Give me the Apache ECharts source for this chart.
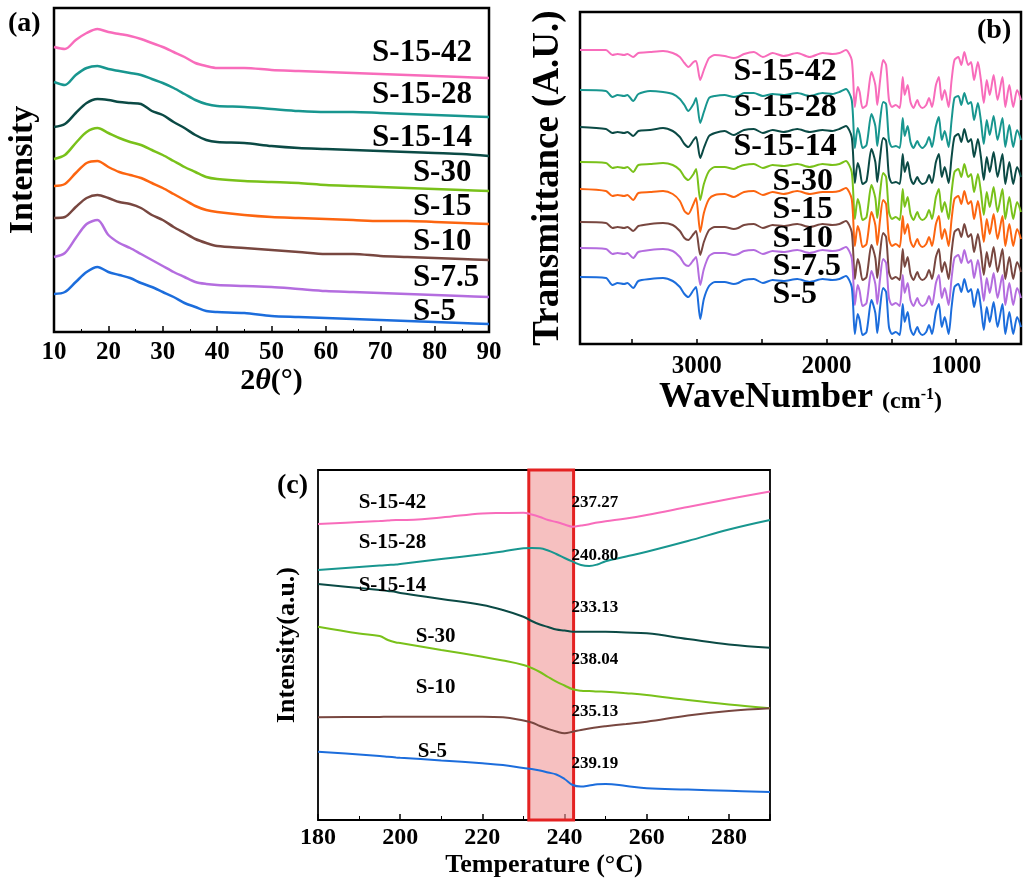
<!DOCTYPE html>
<html>
<head>
<meta charset="utf-8">
<script src="https://cdn.jsdelivr.net/npm/echarts/dist/echarts.min.js"></script>
<style>
  html, body { margin: 0; padding: 0; background: #fff; }
  #chart { width: 1024px; height: 881px; }
</style>
</head>
<body>
<div id="chart"></div>
<script>
// ---- (a) XRD, intensity in arbitrary units (curves stacked) ----
const xrdAngle = [10, 12, 14, 16, 18, 20, 22, 24, 26, 28, 30, 32, 34, 36, 38, 40, 45, 50, 55, 60, 65, 70, 75, 80, 85, 90]
const xrdS1542 = [285, 283, 292, 299, 303, 300, 298, 296, 293, 289, 285, 280, 275, 269, 266, 264, 264, 262, 261, 260, 259, 258, 257, 256, 255, 254]
const xrdS1528 = [250, 247, 257, 264, 266, 263, 261, 259, 257, 253, 249, 244, 238, 232, 228, 226, 225, 223, 221, 220, 220, 219, 218, 217, 216, 215]
const xrdS1514 = [205, 208, 219, 229, 233, 232, 230, 229, 228, 221, 217, 210, 204, 197, 192, 190, 189, 186, 184, 183, 182, 181, 180, 179, 178, 176]
const xrdS30 = [173, 177, 189, 200, 204, 199, 194, 190, 187, 182, 177, 171, 165, 160, 155, 153, 151, 150, 149, 147, 146, 145, 144, 143, 142, 141]
const xrdS15 = [146, 148, 159, 169, 171, 165, 160, 157, 154, 149, 144, 138, 132, 126, 122, 120, 117, 115, 114, 113, 112, 111, 111, 110, 109, 108]
const xrdS10 = [114, 115, 125, 134, 137, 134, 130, 128, 124, 117, 112, 105, 99, 93, 89, 86, 84, 82, 80, 78, 78, 76, 75, 74, 73, 72]
const xrdS75 = [75, 79, 94, 108, 112, 97, 89, 84, 78, 72, 66, 60, 55, 50, 48, 47, 46, 45, 43, 41, 40, 39, 38, 37, 36, 35]
const xrdS5 = [38, 40, 50, 60, 65, 60, 57, 54, 49, 45, 40, 35, 29, 25, 21, 20, 19, 16, 15, 14, 13, 12, 11, 10, 9, 8]

// ---- (b) FTIR, transmittance in arbitrary units (curves stacked) ----
const irWave = [3900, 3700, 3650, 3610, 3560, 3535, 3490, 3450, 3360, 3260, 3185, 3130, 3095, 3065, 3025, 3005, 2973, 2945, 2905, 2860,
  2785, 2715, 2680, 2635, 2560, 2490, 2415, 2330, 2225, 2130, 2030, 1955, 1900, 1850, 1805,
  1781, 1759, 1744, 1721, 1691, 1653, 1623, 1608, 1586, 1563, 1540, 1518, 1495, 1465, 1435, 1412, 1397, 1374, 1352, 1329,
  1299, 1284, 1261, 1231, 1209, 1186, 1156, 1133, 1111, 1088, 1058, 1035, 1013, 983, 960, 937, 907, 885, 862, 832,
  809, 787, 764, 741, 711, 681, 643, 621, 590, 560, 530, 500]
const irS1542 = [294, 294, 289, 290, 289, 290, 287, 291, 292, 293, 291, 287, 281, 277, 282, 283, 264, 274, 286, 289,
  288, 286, 287, 290, 292, 287, 291, 288, 291, 287, 291, 290, 291, 294, 284,
  237, 257, 252, 236, 239, 272, 259, 239, 264, 284, 279, 244, 237, 239, 236, 267, 249, 259, 242, 236,
  244, 239, 236, 239, 246, 237, 259, 267, 244, 254, 237, 264, 284, 287, 279, 292, 279, 282, 264, 282,
  264, 241, 264, 249, 269, 244, 267, 237, 259, 237, 254, 244]
const irS1528 = [254, 253, 247, 249, 248, 249, 243, 250, 253, 252, 250, 245, 239, 233, 240, 246, 221, 232, 246, 248,
  249, 247, 248, 251, 251, 248, 250, 249, 251, 248, 251, 250, 252, 255, 244,
  196, 216, 210, 196, 199, 230, 218, 198, 224, 242, 240, 204, 197, 198, 196, 226, 208, 218, 202, 196,
  203, 199, 196, 200, 207, 197, 218, 227, 204, 213, 197, 224, 246, 248, 239, 251, 240, 242, 224, 241,
  223, 200, 224, 209, 228, 204, 226, 197, 219, 197, 214, 204]
const irS1514 = [217, 215, 211, 212, 211, 212, 208, 213, 214, 216, 213, 207, 200, 197, 204, 207, 186, 196, 208, 211,
  213, 209, 211, 214, 215, 211, 214, 212, 215, 212, 214, 213, 215, 218, 207,
  161, 181, 175, 160, 163, 195, 182, 162, 187, 206, 203, 168, 161, 162, 160, 190, 172, 182, 166, 160,
  167, 163, 160, 162, 169, 161, 182, 190, 167, 177, 161, 187, 207, 210, 202, 215, 202, 205, 187, 205,
  187, 164, 187, 172, 192, 167, 190, 160, 182, 160, 177, 167]
const irS30 = [182, 181, 176, 177, 176, 177, 172, 179, 180, 181, 179, 174, 167, 164, 170, 175, 144, 160, 173, 177,
  177, 175, 177, 179, 180, 176, 179, 178, 180, 177, 180, 179, 180, 183, 172,
  125, 145, 139, 124, 127, 159, 146, 126, 152, 171, 167, 132, 125, 127, 124, 155, 137, 147, 130, 124,
  132, 127, 124, 127, 134, 125, 147, 155, 132, 142, 125, 152, 172, 175, 167, 180, 167, 170, 152, 170,
  152, 129, 152, 137, 157, 132, 155, 125, 147, 125, 142, 132]
const irS15 = [155, 153, 148, 149, 148, 149, 144, 151, 152, 153, 150, 143, 133, 130, 140, 146, 112, 131, 145, 149,
  150, 147, 149, 152, 153, 149, 152, 150, 153, 150, 152, 152, 153, 156, 145,
  98, 118, 112, 97, 100, 132, 119, 99, 125, 144, 140, 105, 98, 100, 97, 128, 110, 120, 103, 97,
  105, 100, 97, 100, 107, 98, 120, 128, 105, 115, 98, 125, 145, 148, 140, 153, 140, 143, 125, 143,
  125, 102, 125, 110, 130, 105, 128, 98, 120, 98, 115, 105]
const irS10 = [122, 121, 116, 117, 116, 117, 113, 118, 120, 121, 119, 113, 106, 104, 110, 113, 89, 102, 114, 117,
  117, 115, 116, 119, 120, 116, 119, 118, 120, 117, 120, 119, 120, 123, 112,
  65, 85, 79, 64, 67, 99, 86, 66, 92, 111, 107, 72, 65, 67, 64, 95, 77, 87, 70, 64,
  72, 67, 64, 67, 74, 65, 87, 95, 72, 82, 65, 92, 112, 115, 107, 120, 107, 110, 92, 110,
  92, 69, 92, 77, 97, 72, 95, 65, 87, 65, 82, 72]
const irS75 = [96, 95, 90, 91, 90, 91, 86, 92, 94, 95, 93, 87, 80, 78, 84, 87, 59, 75, 88, 91,
  91, 89, 90, 93, 94, 90, 93, 92, 94, 91, 94, 93, 94, 97, 86,
  39, 59, 53, 38, 41, 73, 60, 40, 66, 85, 81, 46, 39, 41, 38, 69, 51, 61, 44, 38,
  46, 41, 38, 41, 48, 39, 61, 69, 46, 56, 39, 66, 86, 89, 81, 94, 81, 84, 66, 84,
  66, 43, 66, 51, 71, 46, 69, 39, 61, 39, 56, 46]
const irS5 = [67, 66, 59, 61, 60, 61, 56, 63, 65, 66, 63, 57, 50, 47, 54, 57, 25, 45, 58, 62,
  62, 60, 61, 64, 65, 61, 64, 63, 65, 62, 65, 64, 65, 68, 57,
  10, 30, 24, 9, 12, 44, 31, 11, 37, 56, 52, 17, 10, 12, 9, 40, 22, 32, 15, 9,
  17, 12, 9, 12, 19, 10, 32, 40, 17, 27, 10, 37, 57, 60, 52, 65, 52, 55, 37, 55,
  37, 14, 37, 22, 42, 17, 40, 10, 32, 10, 27, 17]

// ---- (c) DSC, heat flow in arbitrary units (curves stacked) ----
const dscTemp = [180, 190, 195, 197, 199, 200, 210, 220, 225, 230, 232, 234, 236, 238, 240, 242, 244, 246, 248, 250, 255, 260, 270, 280, 290]
const dscS1542 = [296, 298, 299, 299.5, 300, 300, 302.5, 306.5, 307, 307.3, 305.5, 303, 300, 298, 295.5, 293.3, 294.5, 295.8, 297.5, 298.8, 301.5, 305, 313, 321, 328.5]
const dscS1528 = [250, 253, 254.5, 255, 255.5, 256, 261, 265.7, 268.5, 271.7, 272, 271.7, 269.5, 266, 262, 258.3, 255, 254, 255.5, 258.8, 263.5, 268.3, 279, 290.5, 300]
const dscS1514 = [236, 232, 230, 229, 228, 227, 221, 215, 210, 203.3, 199, 195.5, 193, 190.5, 189.5, 188.3, 188.3, 188.3, 188.3, 188.2, 187.5, 186.7, 181, 175.5, 172.3]
const dscS30 = [193.3, 186.5, 184, 180, 177.5, 177, 170, 163.3, 159.5, 155, 152, 148, 143, 138.3, 134.5, 130.7, 129.3, 129, 128.5, 128.3, 126.8, 125, 120, 115.5, 111.7]
const dscS10 = [102.7, 103, 103.1, 103.2, 103.3, 103.3, 103.3, 103.3, 102.7, 99.5, 97.5, 94, 91, 88.5, 86.8, 88.3, 90, 91.5, 92.8, 93.8, 96, 98.3, 104.5, 109, 111.7]
const dscS5 = [68.3, 65.5, 64, 63.3, 62.6, 62.3, 59.5, 56.7, 55, 52, 51, 49.5, 47.5, 45.5, 41, 35, 33.5, 34.5, 35.8, 36, 34, 31.7, 30.5, 29.2, 28]
const dscPeakTemp = ['237.27', '240.80', '233.13', '238.04', '235.13', '239.19']
const dscBand = [231.3, 242.2]

const samples8 = ['S-15-42', 'S-15-28', 'S-15-14', 'S-30', 'S-15', 'S-10', 'S-7.5', 'S-5']
const samples6 = ['S-15-42', 'S-15-28', 'S-15-14', 'S-30', 'S-10', 'S-5']
const colors8 = ['#f86cbb', '#18968f', '#0b4a45', '#79c11a', '#fc6510', '#784740', '#b46ddf', '#1c6ddc']
const colors6 = ['#f86cbb', '#18968f', '#0b4a45', '#79c11a', '#784740', '#1c6ddc']

const FONT = '"Liberation Serif", "Times New Roman", serif'

function lineSeries(name, xs, ys, color, idx, smooth, width) {
  return {
    name: name,
    type: 'line',
    xAxisIndex: idx,
    yAxisIndex: idx,
    data: xs.map((x, i) => [x, ys[i]]),
    symbol: 'none',
    smooth: smooth,
    silent: true,
    lineStyle: { color: color, width: width },
    itemStyle: { color: color },
    z: 3
  }
}

function labelSeries(idx, points, size) {
  return {
    type: 'scatter',
    xAxisIndex: idx,
    yAxisIndex: idx,
    symbolSize: 0,
    silent: true,
    itemStyle: { color: '#000', opacity: 1 },
    z: 10,
    label: {
      show: true,
      position: 'right',
      distance: 0,
      color: '#000',
      opacity: 1,
      fontFamily: FONT,
      fontWeight: 'bold',
      fontSize: size,
      formatter: p => p.value[2]
    },
    data: points
  }
}

function xAxisBase(idx) {
  return {
    gridIndex: idx,
    type: 'value',
    axisLine: { show: false },
    splitLine: { show: false },
    axisTick: { inside: true, length: 6, lineStyle: { color: '#000', width: 1.5 } },
    axisLabel: { color: '#000', fontFamily: FONT, fontWeight: 'bold' },
    nameLocation: 'middle',
    nameTextStyle: { color: '#000', fontFamily: FONT, fontWeight: 'bold' }
  }
}

function yAxisBase(idx, h, name, size, gap) {
  return {
    gridIndex: idx,
    type: 'value',
    min: 0,
    max: h,
    axisLine: { show: false },
    axisTick: { show: false },
    axisLabel: { show: false },
    splitLine: { show: false },
    name: name,
    nameLocation: 'middle',
    nameGap: gap,
    nameTextStyle: { color: '#000', fontFamily: FONT, fontWeight: 'bold', fontSize: size }
  }
}

const xrdData = [xrdS1542, xrdS1528, xrdS1514, xrdS30, xrdS15, xrdS10, xrdS75, xrdS5]
const irData = [irS1542, irS1528, irS1514, irS30, irS15, irS10, irS75, irS5]
const dscData = [dscS1542, dscS1528, dscS1514, dscS30, dscS10, dscS5]

// label anchors (left edge of each name, in data units)
const xrdLabelX = [68.5, 68.5, 68.5, 76, 76, 76, 76, 76]
const xrdLabelY = [279, 237, 194, 159, 125, 90, 54, 20]
const irLabelX = [2716, 2716, 2716, 2415, 2415, 2415, 2415, 2415]
const irLabelY = [272, 236, 197, 162, 134, 105, 77, 49]
const dscLabelX = [189.9, 189.9, 189.9, 203.8, 203.8, 204.3]
const dscLabelY = [317, 277, 234, 183, 132, 68]
const dscPeakY = [317, 264, 212, 160, 108, 56]

const series = []
samples8.forEach((s, i) => series.push(lineSeries(s, xrdAngle, xrdData[i], colors8[i], 0, 0.3, 2.5)))
samples8.forEach((s, i) => series.push(lineSeries(s, irWave, irData[i], colors8[i], 1, 0.25, 2)))
samples6.forEach((s, i) => series.push(lineSeries(s, dscTemp, dscData[i], colors6[i], 2, 0.4, 2)))
series[16].markArea = {
  silent: true,
  itemStyle: { color: 'rgba(240,150,150,0.6)', borderColor: '#e42222', borderWidth: 3 },
  data: [[{ xAxis: dscBand[0] }, { xAxis: dscBand[1] }]]
}
series.push(labelSeries(0, samples8.map((s, i) => [xrdLabelX[i], xrdLabelY[i], s]), 31))
series.push(labelSeries(1, samples8.map((s, i) => [irLabelX[i], irLabelY[i], s]), 32))
series.push(labelSeries(2, samples6.map((s, i) => [dscLabelX[i], dscLabelY[i], s]), 21))
series.push(labelSeries(2, dscPeakTemp.map((t, i) => [241.7, dscPeakY[i], t]), 17))

const xa = xAxisBase(0)
Object.assign(xa, {
  min: 10, max: 90, interval: 10,
  minorTick: { show: true, splitNumber: 2, length: 3, lineStyle: { color: '#000' } },
  name: '2{i|θ}(°)', nameGap: 30
})
xa.axisLabel = Object.assign({}, xa.axisLabel, { fontSize: 25, margin: 8 })
xa.nameTextStyle = Object.assign({}, xa.nameTextStyle, {
  fontSize: 30, rich: { i: { fontStyle: 'italic', fontWeight: 'bold', fontSize: 30, fontFamily: FONT, color: '#000' } }
})

const xb = xAxisBase(1)
Object.assign(xb, {
  min: 500, max: 3900, interval: 500, inverse: true,
  name: 'WaveNumber {s|(cm}{sup|-1}{s|)}', nameGap: 30
})
xb.axisTick = Object.assign({}, xb.axisTick, { length: 5 })
xb.axisLabel = Object.assign({}, xb.axisLabel, {
  fontSize: 25, margin: 10,
  formatter: v => (v % 1000 === 0 && v >= 1000 && v <= 3000) ? String(v) : ''
})
xb.nameTextStyle = Object.assign({}, xb.nameTextStyle, {
  fontSize: 36,
  rich: {
    s: { fontSize: 24, fontWeight: 'bold', fontFamily: FONT, color: '#000', padding: [8, 0, 0, 0] },
    sup: { fontSize: 16, fontWeight: 'bold', fontFamily: FONT, color: '#000', padding: [0, 0, 6, 0] }
  }
})

const xc = xAxisBase(2)
Object.assign(xc, {
  min: 180, max: 290, interval: 20,
  minorTick: { show: true, splitNumber: 2, length: 4, lineStyle: { color: '#000' } },
  name: 'Temperature (°C)', nameGap: 32
})
xc.axisLabel = Object.assign({}, xc.axisLabel, { fontSize: 24, margin: 6, showMaxLabel: false })
xc.nameTextStyle = Object.assign({}, xc.nameTextStyle, { fontSize: 26 })

const chart = echarts.init(document.getElementById('chart'), null, { renderer: 'canvas' })
chart.setOption({
  animation: false,
  backgroundColor: '#fff',
  grid: [
    { left: 54, top: 8, width: 435, height: 324, show: true, borderColor: '#000', borderWidth: 2.5 },
    { left: 580, top: 12, width: 451, height: 332, show: true, borderColor: '#000', borderWidth: 2.5 },
    { left: 318, top: 470, width: 452, height: 350, show: true, borderColor: '#000', borderWidth: 1.8 }
  ],
  xAxis: [xa, xb, xc],
  yAxis: [
    yAxisBase(0, 324, 'Intensity', 34, 14),
    yAxisBase(1, 332, 'Transmittance (A.U.)', 37, 13),
    yAxisBase(2, 350, 'Intensity(a.u.)', 26, 18)
  ],
  graphic: [
    { type: 'text', left: 8, top: 10, style: { text: '(a)', font: 'bold 28px ' + FONT, fill: '#000' } },
    { type: 'text', left: 977, top: 17, style: { text: '(b)', font: 'bold 28px ' + FONT, fill: '#000' } },
    { type: 'text', left: 277, top: 472, style: { text: '(c)', font: 'bold 28px ' + FONT, fill: '#000' } }
  ],
  series: series
})
</script>
</body>
</html>
